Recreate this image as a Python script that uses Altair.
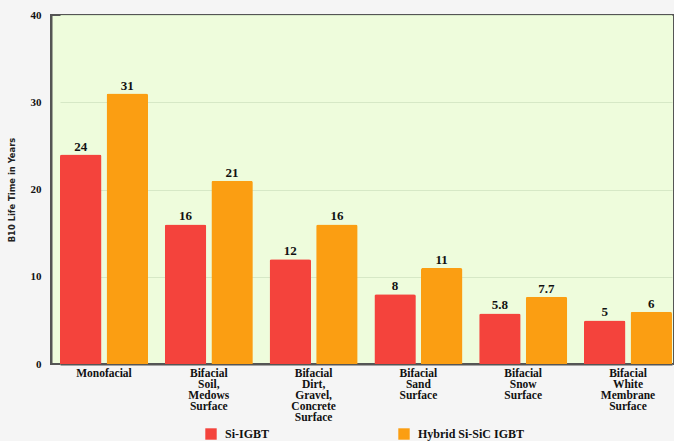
import altair as alt
import pandas as pd

categories = [
    "Monofacial",
    "Bifacial|Soil,|Medows|Surface",
    "Bifacial|Dirt,|Gravel,|Concrete|Surface",
    "Bifacial|Sand|Surface",
    "Bifacial|Snow|Surface",
    "Bifacial|White|Membrane|Surface",
]
series = ["Si-IGBT", "Hybrid Si-SiC IGBT"]
si_igbt = [24, 16, 12, 8, 5.8, 5]
hybrid = [31, 21, 16, 11, 7.7, 6]
colors = ["#f4433c", "#fb9e12"]

rows = []
for c, a, b in zip(categories, si_igbt, hybrid):
    rows.append({"cat": c, "series": series[0], "val": a})
    rows.append({"cat": c, "series": series[1], "val": b})
df = pd.DataFrame(rows)

FONT = "Liberation Serif"

x = alt.X(
    "cat:N",
    sort=categories,
    title=None,
    scale=alt.Scale(range=[9, 621], paddingInner=0.16, paddingOuter=0),
    axis=alt.Axis(
        labelExpr="split(datum.label, '|')",
        labelAngle=0,
        labelFont=FONT,
        labelFontWeight="bold",
        labelFontSize=11.5,
        labelColor="#111",
        labelLineHeight=11,
        labelPadding=3,
        labelBaseline="top",
        ticks=False,
        domainColor="#555",
        domainWidth=2,
        labelLimit=200,
    ),
)
xo = alt.XOffset("series:N", sort=series, scale=alt.Scale(paddingInner=0.11))
y = alt.Y(
    "val:Q",
    title="B10 Life Time in Years",
    scale=alt.Scale(domain=[0, 40], nice=False),
    axis=alt.Axis(
        values=[0, 10, 20, 30, 40],
        labelFont=FONT,
        labelFontWeight="bold",
        labelFontSize=11,
        labelColor="#111",
        labelPadding=10,
        ticks=False,
        domainColor="#555",
        domainWidth=2,
        gridColor="#d6e8c6",
        gridWidth=1,
        titleFont="Liberation Sans Narrow, DejaVu Sans Condensed, sans-serif",
        titleFontWeight="bold",
        titleFontSize=9.3,
        titleColor="#222",
        titlePadding=14,
    ),
)
color = alt.Color(
    "series:N",
    sort=series,
    scale=alt.Scale(domain=series, range=colors),
    legend=alt.Legend(
        title=None,
        orient="none",
        direction="horizontal",
        legendX=154,
        legendY=413,
        symbolType="square",
        symbolSize=130,
        symbolStrokeWidth=0,
        labelFont=FONT,
        labelFontWeight="bold",
        labelFontSize=12,
        labelColor="#111",
        labelOffset=8,
        columnPadding=128,
    ),
)

bars = alt.Chart(df).mark_bar(cornerRadiusTopLeft=2, cornerRadiusTopRight=2).encode(
    x=x, xOffset=xo, y=y, color=color
)
labels = alt.Chart(df).mark_text(
    dy=-8, font=FONT, fontWeight="bold", fontSize=13, color="#111"
).encode(x=x, xOffset=xo, y=y, text=alt.Text("val:Q"))

chart = (
    alt.layer(bars, labels)
    .properties(
        width=623,
        height=349,
        autosize=alt.AutoSizeParams(type="none"),
        padding={"left": 51, "top": 15, "right": 0, "bottom": 77},
        background="#f5f5f5",
    )
    .configure_view(fill="#eefcdc", stroke="#555", strokeWidth=2)
)

chart.save("out.html", embed_options={"renderer": "svg", "actions": False})
